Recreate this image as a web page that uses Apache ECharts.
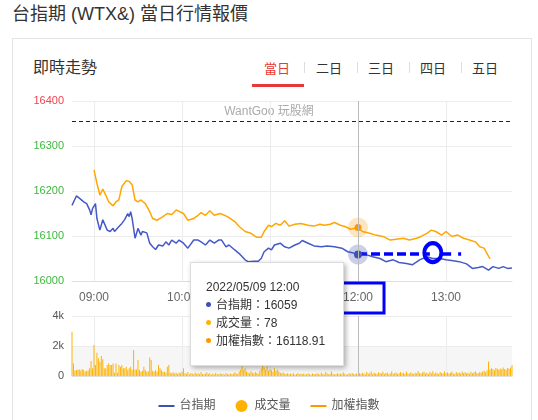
<!DOCTYPE html>
<html><head><meta charset="utf-8">
<script src="https://cdn.jsdelivr.net/npm/echarts@6/dist/echarts.min.js"></script>
<style>
html,body{margin:0;padding:0;background:#fff;width:538px;height:420px;overflow:hidden;font-family:'Liberation Sans',Arial,'Noto Sans CJK TC',sans-serif;}
#title{position:absolute;left:12px;top:3px;font-size:18px;color:#333;line-height:22px;white-space:nowrap;}
#card{position:absolute;left:12px;top:38px;width:520px;height:400px;border:1px solid #e3e3e3;box-sizing:border-box;}
#sub{position:absolute;left:33px;top:58px;font-size:16px;line-height:20px;color:#333;white-space:nowrap;}
.tab{position:absolute;top:60px;font-size:13px;line-height:17px;color:#333;width:52px;text-align:center;}
.sep{position:absolute;top:62px;width:1px;height:11px;background:#ddd;}
#ul{position:absolute;left:252px;top:84px;width:52px;height:3px;background:#e53935;}
#chart{position:absolute;left:0;top:0;width:538px;height:420px;}
</style></head><body>
<div id="title">台指期 (WTX&amp;) 當日行情報價</div>
<div id="card"></div>
<div id="sub">即時走勢</div>
<div class="tab" style="left:251px;color:#e53935">當日</div>
<div class="tab" style="left:303px">二日</div>
<div class="tab" style="left:355px">三日</div>
<div class="tab" style="left:407px">四日</div>
<div class="tab" style="left:459px">五日</div>
<div class="sep" style="left:304px"></div>
<div class="sep" style="left:357px"></div>
<div class="sep" style="left:409px"></div>
<div class="sep" style="left:461px"></div>
<div id="ul"></div>
<div id="chart"></div>
<script>
const DATE = '2022/05/09';
const REF_PRICE = 16356;
const TIP_TIME = '12:00';
const WATERMARK = 'WantGoo 玩股網';

// 台指期 (futures), [time, price]
const futures = [
['08:45',16168],['08:48',16189],['08:50',16184],['08:53',16176],['08:55',16172],['08:57',16158],['08:58',16147],['08:59',16161],
['09:01',16172],['09:02',16139],['09:04',16113],['09:06',16136],['09:09',16113],['09:11',16110],['09:13',16117],['09:14',16110],
['09:17',16121],['09:19',16128],['09:21',16137],['09:23',16150],['09:24',16143],['09:25',16154],['09:26',16139],['09:28',16095],
['09:30',16117],['09:32',16102],['09:33',16110],['09:36',16107],['09:38',16084],['09:40',16076],['09:42',16070],['09:44',16080],
['09:47',16078],['09:49',16087],['09:51',16080],['09:53',16091],['09:56',16084],['09:58',16091],['10:01',16084],['10:04',16073],
['10:08',16091],['10:11',16091],['10:13',16087],['10:16',16080],['10:19',16091],['10:22',16084],['10:25',16091],['10:27',16091],
['10:30',16076],['10:32',16080],['10:36',16069],['10:39',16061],['10:43',16047],['10:45',16043],['10:49',16044],['10:52',16044],
['10:54',16050],['10:56',16065],['10:59',16073],['11:01',16069],['11:03',16080],['11:07',16084],['11:10',16076],['11:13',16073],
['11:17',16080],['11:20',16084],['11:22',16090],['11:26',16084],['11:30',16078],['11:35',16076],['11:39',16078],['11:44',16076],
['11:49',16073],['11:53',16065],['11:57',16062],['12:00',16059],['12:03',16063],['12:06',16058],['12:10',16054],['12:15',16050],
['12:19',16043],['12:24',16047],['12:28',16041],['12:33',16039],['12:37',16036],['12:42',16047],['12:47',16054],['12:51',16050],
['12:56',16050],['13:00',16047],['13:05',16045],['13:09',16043],['13:14',16038],['13:18',16028],['13:22',16030],['13:25',16032],
['13:29',16024],['13:32',16032],['13:36',16028],['13:39',16032],['13:42',16028],['13:45',16029]
];

// 加權指數 (TAIEX), [time, value]
const taiex = [
['09:00',16247],['09:02',16217],['09:04',16191],['09:06',16204],['09:08',16191],['09:10',16176],['09:13',16167],['09:15',16176],
['09:17',16181],['09:19',16210],['09:22',16223],['09:24',16221],['09:26',16214],['09:28',16180],['09:30',16176],['09:32',16180],
['09:35',16172],['09:38',16154],['09:40',16139],['09:43',16135],['09:45',16139],['09:47',16143],['09:50',16150],['09:53',16148],
['09:56',16158],['10:01',16150],['10:04',16135],['10:08',16139],['10:11',16146],['10:13',16152],['10:16',16146],['10:19',16156],
['10:22',16146],['10:26',16150],['10:31',16143],['10:36',16132],['10:39',16121],['10:43',16110],['10:47',16106],['10:51',16097],
['10:54',16097],['10:56',16110],['10:59',16124],['11:01',16121],['11:04',16128],['11:07',16124],['11:10',16134],['11:13',16122],
['11:17',16126],['11:21',16128],['11:26',16124],['11:30',16122],['11:34',16126],['11:37',16124],['11:41',16126],['11:44',16130],
['11:48',16124],['11:51',16121],['11:55',16115],['12:00',16118.91],['12:03',16110],['12:08',16106],['12:12',16102],['12:17',16099],
['12:22',16091],['12:26',16093],['12:31',16095],['12:35',16091],['12:40',16095],['12:43',16099],['12:47',16106],['12:50',16113],
['12:53',16110],['12:57',16102],['13:00',16110],['13:04',16099],['13:08',16102],['13:12',16095],['13:16',16091],['13:20',16087],
['13:23',16076],['13:26',16073],['13:30',16048.92]
];

// 成交量 per minute, 08:45 .. 13:45
const volume = [
2950,840,360,400,420,440,360,470,400,290,350,360,510,1000,510,
2070,730,1550,1180,950,1330,1110,510,500,730,840,730,730,840,220,
840,220,730,620,730,510,510,620,400,510,620,400,1730,440,440,
1070,400,290,350,620,400,290,300,1240,1070,350,290,400,290,730,
510,400,290,290,220,620,730,220,180,250,160,210,140,240,180,
300,510,190,150,260,120,200,170,110,230,150,180,130,260,140,
110,170,240,130,190,90,160,120,210,140,100,180,130,150,90,
200,140,120,170,110,150,230,160,130,280,420,650,380,520,300,
240,190,310,220,170,260,200,150,330,480,720,560,410,640,350,
460,390,280,520,340,410,300,220,180,240,150,130,190,110,160,
120,180,90,140,200,110,150,130,170,100,140,190,120,90,160,
130,110,180,150,90,210,140,120,260,170,110,150,300,130,100,
140,190,120,160,110,230,150,90,130,180,120,200,140,110,160,
78,190,140,220,170,120,260,150,180,300,140,210,170,130,250,
190,160,280,140,200,230,120,170,310,150,190,240,130,180,270,
160,210,140,300,190,150,250,170,130,220,180,340,200,150,230,
290,170,210,140,260,190,320,150,230,180,140,270,200,160,310,
180,240,150,210,290,170,130,260,190,230,160,300,200,250,180,
220,150,280,190,240,310,200,170,260,220,300,350,250,380,960,
430,520,460,390,540,480,420,500,450,560,470,410,530,490,560,
730
];

// hand-drawn annotation (blue) in data terms
const annotDash = [['12:00',16061],['12:49',16061]];
const annotDashDot = [['12:56',16061],['13:14',16061]];
const annotCircle = ['12:51',16063];
const annotLabel = '12:00';

// minute categories 08:45 .. 13:45
const pad = n => (n < 10 ? '0' : '') + n;
const minutes = [];
for (let t = 525; t <= 825; t++) minutes.push(pad(Math.floor(t / 60)) + ':' + pad(t % 60));

const BLUE = '#3f51b5', ORANGE = '#ff9800', AMBER = '#ffb300';
const RED = '#f5424e', GREEN = '#3db83d';
const FONT = "'Liberation Sans', Arial, 'Noto Sans CJK TC', sans-serif";
const LINE_ICON = 'path://M0,0H16V2H0Z';
const isHour = (i, v) => v.slice(3) === '00';
const lookup = (arr, t) => { const p = arr.find(d => d[0] === t); return p ? p[1] : '-'; };

const chart = echarts.init(document.getElementById('chart'));
const fAt = lookup(futures, TIP_TIME), iAt = lookup(taiex, TIP_TIME);

const option = {
  animation: false,
  textStyle: { fontFamily: FONT },
  axisPointer: { link: [{ xAxisIndex: 'all' }] },
  graphic: [{ type: 'text', left: 'center', top: 106, style: { text: WATERMARK, fill: '#aaa', fontSize: 12, fontFamily: FONT }, z: 0, silent: true }],
  legend: {
    left: 'center', top: 395, itemWidth: 16, itemHeight: 12, itemGap: 20,
    textStyle: { fontSize: 12, color: '#555', fontFamily: FONT },
    data: [{ name: '台指期', icon: LINE_ICON }, { name: '成交量', icon: 'circle' }, { name: '加權指數', icon: LINE_ICON }]
  },
  tooltip: {
    trigger: 'axis', triggerOn: 'none', alwaysShowContent: true, transitionDuration: 0,
    position: [190, 262],
    backgroundColor: '#fff', borderColor: '#ddd', borderWidth: 1, padding: [15, 18, 15, 15],
    textStyle: { fontSize: 12, color: '#333', fontFamily: FONT },
    extraCssText: 'box-shadow:2px 2px 5px rgba(0,0,0,0.3);border-radius:0;line-height:18px;',
    axisPointer: { type: 'line', lineStyle: { color: '#bbb', width: 1, type: 'solid' }, label: { show: false } },
    formatter: function (params) {
      const t = params[0].axisValue;
      const v = volume[minutes.indexOf(t)];
      const dot = c => '<span style="display:inline-block;width:5px;height:5px;border-radius:50%;background:' + c + ';margin-right:5px;vertical-align:middle;position:relative;top:-1px"></span>';
      return '<div>' + DATE + ' ' + t + '</div>' +
        '<div>' + dot(BLUE) + '台指期：' + lookup(futures, t) + '</div>' +
        '<div>' + dot(AMBER) + '成交量：' + v + '</div>' +
        '<div>' + dot(ORANGE) + '加權指數：' + lookup(taiex, t) + '</div>';
    }
  },
  grid: [
    { left: 72, right: 26, top: 101, height: 180, outerBoundsMode: 'none' },
    { left: 72, right: 26, top: 316, height: 60, outerBoundsMode: 'none' }
  ],
  xAxis: [
    {
      type: 'category', gridIndex: 0, data: minutes, boundaryGap: false,
      axisLine: { lineStyle: { color: '#e0e0e0' } }, axisTick: { show: false },
      axisPointer: { lineStyle: { type: 'solid', color: '#bbb' } },
      axisLabel: {
        interval: isHour, margin: 2, color: '#666', fontSize: 12,
        formatter: v => (v === annotLabel ? '{box|' + v + '}' : '{n|' + v + '}'),
        rich: {
          n: { padding: [0, 11], lineHeight: 30, fontSize: 12, color: '#666', fontFamily: FONT },
          box: { padding: [0, 11], lineHeight: 30, height: 30, fontSize: 12, color: '#666', fontFamily: FONT, borderColor: '#0000ff', borderWidth: 3 }
        }
      },
      splitLine: { show: true, interval: isHour, lineStyle: { color: '#ececec' } }
    },
    {
      type: 'category', gridIndex: 1, data: minutes, boundaryGap: false,
      axisLine: { lineStyle: { color: '#e0e0e0' } }, axisTick: { show: false }, axisLabel: { show: false },
      axisPointer: { lineStyle: { type: 'solid', color: '#bbb' } },
      splitLine: { show: true, interval: isHour, lineStyle: { color: '#ececec' } }
    }
  ],
  yAxis: [
    {
      type: 'value', gridIndex: 0, min: 16000, max: 16400, interval: 100,
      axisLine: { show: false }, axisTick: { show: false },
      axisLabel: { margin: 8, fontSize: 11, formatter: v => String(v), color: v => (Number(v) > REF_PRICE ? RED : GREEN) },
      splitLine: { lineStyle: { color: '#ececec' } }
    },
    {
      type: 'value', gridIndex: 1, min: 0, max: 4000, interval: 2000,
      axisLine: { show: false }, axisTick: { show: false },
      axisLabel: { margin: 8, fontSize: 11, color: '#555', formatter: v => (v === 0 ? '0' : v / 1000 + 'k') },
      splitLine: { lineStyle: { color: '#ececec' } },
      splitArea: { show: true, areaStyle: { color: ['#f6f6f6', 'rgba(255,255,255,0)'] } }
    }
  ],
  series: [
    {
      name: '台指期', type: 'line', xAxisIndex: 0, yAxisIndex: 0, data: futures, symbol: 'none',
      color: BLUE, lineStyle: { width: 1.5, color: BLUE }, z: 4,
      markLine: {
        silent: true, symbol: ['none', 'none'], label: { show: false },
        data: [
          { yAxis: REF_PRICE, lineStyle: { type: [4, 3], color: '#222', width: 1 } },
          [{ coord: annotDash[0], lineStyle: { type: [9, 4], color: '#0000ff', width: 3.5 } }, { coord: annotDash[1] }],
          [{ coord: annotDashDot[0], lineStyle: { type: [11, 7, 3, 7], color: '#0000ff', width: 3.5 } }, { coord: annotDashDot[1] }]
        ]
      },
      markPoint: {
        silent: true, label: { show: false },
        data: [
          { coord: [TIP_TIME, fAt], symbol: 'circle', symbolSize: 20, itemStyle: { color: 'rgba(63,81,181,0.28)' } },
          { coord: [TIP_TIME, fAt], symbol: 'circle', symbolSize: 8, itemStyle: { color: BLUE } },
          { coord: annotCircle, symbol: 'circle', symbolSize: [17, 19], itemStyle: { color: 'rgba(0,0,0,0)', borderColor: '#0000ff', borderWidth: 4 } }
        ]
      }
    },
    {
      name: '成交量', type: 'bar', xAxisIndex: 1, yAxisIndex: 1, data: volume, color: AMBER, barWidth: 1
    },
    {
      name: '加權指數', type: 'line', xAxisIndex: 0, yAxisIndex: 0, data: taiex, symbol: 'none',
      color: ORANGE, lineStyle: { width: 1.5, color: ORANGE }, z: 3,
      markPoint: {
        silent: true, label: { show: false },
        data: [
          { coord: [TIP_TIME, iAt], symbol: 'circle', symbolSize: 20, itemStyle: { color: 'rgba(255,152,0,0.25)' } },
          { coord: [TIP_TIME, iAt], symbol: 'circle', symbolSize: 7, itemStyle: { color: ORANGE } }
        ]
      }
    }
  ]
};
chart.setOption(option);
chart.dispatchAction({ type: 'showTip', seriesIndex: 0, dataIndex: futures.findIndex(d => d[0] === TIP_TIME) });
</script>
</body></html>
